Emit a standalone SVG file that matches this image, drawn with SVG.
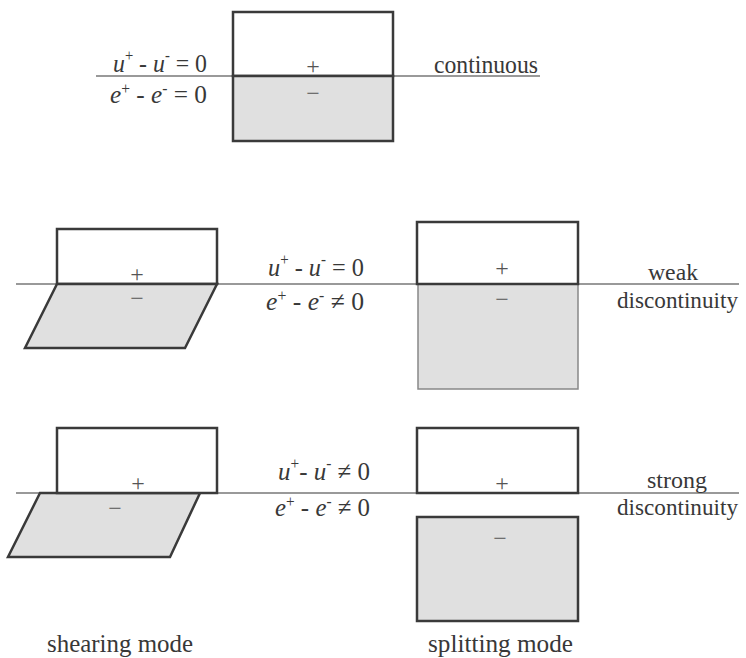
<svg xmlns="http://www.w3.org/2000/svg" width="746" height="658" viewBox="0 0 746 658">
<style>
text{font-family:'Liberation Serif',Tinos,'Times New Roman',serif;fill:#383838;font-size:26px}
.it{font-style:italic}
.sup{font-size:16px}
.sign{font-size:24px;text-anchor:middle;fill:#555}
.sm{font-size:24px}
.box{fill:#fff;stroke:#3a3a3a;stroke-width:2.5}
.lo{fill:#e0e0e0;stroke:#3a3a3a;stroke-width:2.5}
.lo2{fill:#e0e0e0;stroke:#888;stroke-width:1.5}
.ln{stroke:#777;stroke-width:1.5;fill:none}
</style>
<rect width="746" height="658" fill="#fff"/>
<g id="connectors">
<line class="ln" x1="96" y1="76" x2="540" y2="76"/>
<line class="ln" x1="16" y1="284" x2="739" y2="284"/>
<line class="ln" x1="16" y1="493" x2="739" y2="493"/>
</g>
<g id="continuous">
<rect class="box" x="233" y="12" width="160" height="64"/>
<rect class="lo" x="233" y="76" width="160" height="65"/>
<text class="sign" x="313" y="74">+</text>
<text class="sign" x="313" y="101">−</text>
<text x="207" y="72" text-anchor="end" textLength="94" lengthAdjust="spacingAndGlyphs"><tspan class="it">u</tspan><tspan class="sup" dy="-11">+</tspan><tspan dy="11"> - </tspan><tspan class="it">u</tspan><tspan class="sup" dy="-11">-</tspan><tspan dy="11"> = 0</tspan></text>
<text x="207" y="103" text-anchor="end" textLength="97" lengthAdjust="spacingAndGlyphs"><tspan class="it">e</tspan><tspan class="sup" dy="-9">+</tspan><tspan dy="9"> - </tspan><tspan class="it">e</tspan><tspan class="sup" dy="-9">-</tspan><tspan dy="9"> = 0</tspan></text>
<text x="434" y="73" textLength="104" lengthAdjust="spacingAndGlyphs">continuous</text>
</g>
<g id="weak-shear">
<rect class="box" x="57" y="229" width="160" height="55"/>
<polygon class="lo" points="57,284 217,284 185,348 25,348"/>
<text class="sign" x="137" y="282">+</text>
<text class="sign" x="137" y="306">−</text>
</g>
<g id="weak-eq">
<text x="364" y="276" text-anchor="end" textLength="96" lengthAdjust="spacingAndGlyphs"><tspan class="it">u</tspan><tspan class="sup" dy="-11">+</tspan><tspan dy="11"> - </tspan><tspan class="it">u</tspan><tspan class="sup" dy="-11">-</tspan><tspan dy="11"> = 0</tspan></text>
<text x="364" y="310" text-anchor="end" textLength="98" lengthAdjust="spacingAndGlyphs"><tspan class="it">e</tspan><tspan class="sup" dy="-9">+</tspan><tspan dy="9"> - </tspan><tspan class="it">e</tspan><tspan class="sup" dy="-9">-</tspan><tspan dy="9"> ≠ 0</tspan></text>
</g>
<g id="weak-split">
<rect class="lo2" x="418" y="284" width="160" height="105"/>
<rect class="box" x="417" y="222" width="161" height="62"/>
<text class="sign" x="502" y="276">+</text>
<text class="sign" x="502" y="307">−</text>
<text class="sm" x="648" y="280" textLength="50" lengthAdjust="spacingAndGlyphs">weak</text>
<text class="sm" x="617" y="308" textLength="121" lengthAdjust="spacingAndGlyphs">discontinuity</text>
</g>
<g id="strong-shear">
<polygon class="lo" points="40,493 200,493 170,557 8,557"/>
<rect class="box" x="57" y="428" width="160" height="65"/>
<text class="sign" x="138" y="491">+</text>
<text class="sign" x="115" y="516">−</text>
</g>
<g id="strong-eq">
<text x="370" y="480" text-anchor="end" textLength="92" lengthAdjust="spacingAndGlyphs"><tspan class="it">u</tspan><tspan class="sup" dy="-11">+</tspan><tspan dy="11">- </tspan><tspan class="it">u</tspan><tspan class="sup" dy="-11">-</tspan><tspan dy="11"> ≠ 0</tspan></text>
<text x="370" y="516" text-anchor="end" textLength="95" lengthAdjust="spacingAndGlyphs"><tspan class="it">e</tspan><tspan class="sup" dy="-9">+</tspan><tspan dy="9"> - </tspan><tspan class="it">e</tspan><tspan class="sup" dy="-9">-</tspan><tspan dy="9"> ≠ 0</tspan></text>
</g>
<g id="strong-split">
<rect class="box" x="417" y="428" width="161" height="65"/>
<rect class="lo" x="417" y="517" width="161" height="104"/>
<text class="sign" x="502" y="491">+</text>
<text class="sign" x="500" y="546">−</text>
<text class="sm" x="647" y="488" textLength="60" lengthAdjust="spacingAndGlyphs">strong</text>
<text class="sm" x="617" y="515" textLength="121" lengthAdjust="spacingAndGlyphs">discontinuity</text>
</g>
<g id="labels">
<text x="47" y="652" textLength="146" lengthAdjust="spacingAndGlyphs">shearing  mode</text>
<text x="428" y="652" textLength="145" lengthAdjust="spacingAndGlyphs">splitting  mode</text>
</g>
</svg>
